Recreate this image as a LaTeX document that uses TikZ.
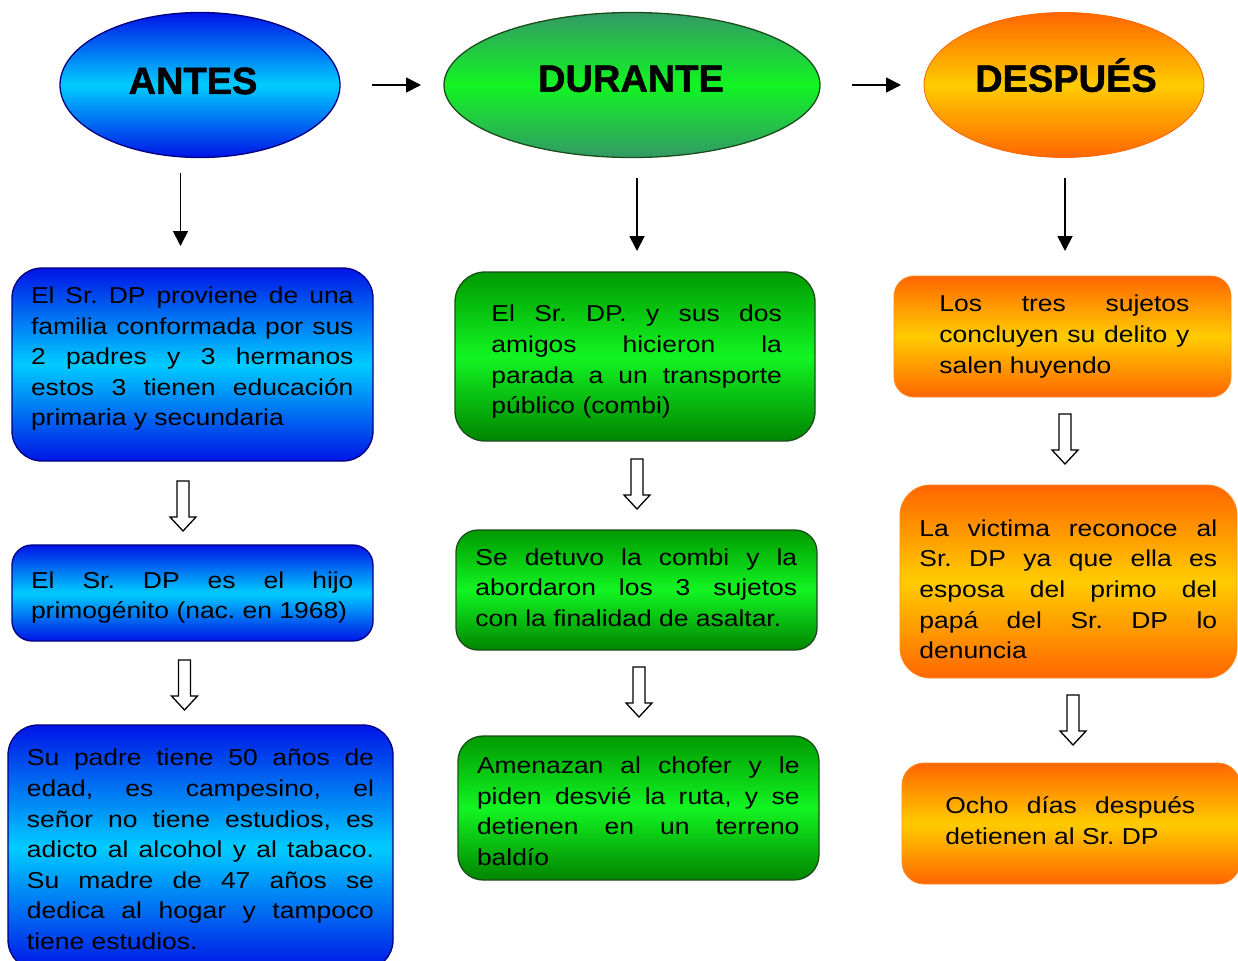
\documentclass[tikz,border=0pt]{standalone}
\usepackage{fontspec}
\setmainfont{Liberation Sans}
\newfontfamily\bodyfont{Liberation Sans}[FakeStretch=1.15]
\newfontfamily\titlefont{Liberation Sans}[BoldFeatures={FakeBold=1.2}]
\usetikzlibrary{arrows.meta,shapes.geometric}
\definecolor{bdark}{HTML}{0014E6}
\definecolor{blight}{HTML}{00CCFF}
\definecolor{bline}{HTML}{000080}
\definecolor{gedark}{HTML}{339966}
\definecolor{glight}{HTML}{12F522}
\definecolor{gtop}{HTML}{009A00}
\definecolor{gbot}{HTML}{008400}
\definecolor{gline}{HTML}{1B4D1B}
\definecolor{odark}{HTML}{FF6600}
\definecolor{olight}{HTML}{FFCC00}
\definecolor{oline}{HTML}{FF8A1F}
\frenchspacing
\tikzset{
  bluefill/.style={top color=bdark, bottom color=bdark, middle color=blight},
  greenfill/.style={top color=gtop, bottom color=gbot, middle color=glight},
  greenellfill/.style={top color=gedark, bottom color=gedark, middle color=glight},
  orangefill/.style={top color=odark, bottom color=odark, middle color=olight},
  phase/.style={ellipse, inner sep=0pt, line width=1.3pt},
  boxshape/.style={rectangle, inner sep=0pt, line width=1.3pt},
  bluebox/.style={boxshape, bluefill, draw=bline},
  greenbox/.style={boxshape, greenfill, draw=gline},
  orangebox/.style={boxshape, orangefill, draw=oline, line width=0.8pt},
  titletext/.style={inner sep=0pt, anchor=base, font=\titlefont\fontsize{38}{40}\selectfont\bfseries},
  bodytext/.style={inner sep=0pt, anchor=north west, align=justify,
    font=\bodyfont\fontsize{23}{30.6}\selectfont\frenchspacing,
    execute at begin node={\parindent=0pt\tolerance=10000\hbadness=10000\frenchspacing\rule{0pt}{20pt}}},
  arr/.style={line width=1.8pt, -{Triangle[length=15pt,width=15pt]}},
  hollowdown/.pic={
    \draw[line width=1.3pt, fill=white, line join=miter]
      (-6,0) -- (-6,36) -- (-13,36) -- (0,50) -- (13,36) -- (6,36) -- (6,0) -- cycle;
  }
}
\begin{document}
\begin{tikzpicture}[x=1pt,y=-1pt]
\useasboundingbox (0,0) rectangle (1238,960);

% phase ellipses
\node[phase, bluefill, draw=bline, minimum width=280, minimum height=145] (antes) at (200,85) {};
\node[phase, greenellfill, draw=gline, minimum width=376, minimum height=145] (durante) at (632,85) {};
\node[phase, orangefill, draw=odark, line width=0.8pt, minimum width=280, minimum height=145] (despues) at (1064,85) {};
\node[titletext] (tantes) at (193,94) {ANTES};
\node[titletext] (tdurante) at (631,91.7) {DURANTE};
\node[titletext] (tdespues) at (1066,91.7) {DESPUÉS};

% horizontal arrows
\coordinate (h1s) at (372,85); \coordinate (h1e) at (421,85);
\coordinate (h2s) at (852,85); \coordinate (h2e) at (901,85);
\draw[arr] (h1s) -- (h1e);
\draw[arr] (h2s) -- (h2e);

% vertical arrows
\coordinate (v1s) at (180.5,173); \coordinate (v1e) at (180.5,246);
\coordinate (v2s) at (637,178); \coordinate (v2e) at (637,251);
\coordinate (v3s) at (1065,178); \coordinate (v3e) at (1065,251);
\draw[arr] (v1s) -- (v1e);
\draw[arr] (v2s) -- (v2e);
\draw[arr] (v3s) -- (v3e);

% boxes column 1
\node[bluebox, rounded corners=30pt, minimum width=361, minimum height=193] (b1) at (192.5,364.5) {};
\node[bluebox, rounded corners=20pt, minimum width=361, minimum height=96] (b2) at (192.5,593) {};
\node[bluebox, rounded corners=30pt, minimum width=385, minimum height=245] (b3) at (200.5,847.5) {};
% boxes column 2
\node[greenbox, rounded corners=30pt, minimum width=360, minimum height=169] (g1) at (635,356.5) {};
\node[greenbox, rounded corners=22pt, minimum width=361, minimum height=120] (g2) at (636.5,590) {};
\node[greenbox, rounded corners=25pt, minimum width=361, minimum height=144] (g3) at (638.5,808) {};
% boxes column 3
\node[orangebox, rounded corners=20pt, minimum width=337, minimum height=121] (o1) at (1062.5,336.5) {};
\node[orangebox, rounded corners=30pt, minimum width=337, minimum height=193] (o2) at (1068.5,581.5) {};
\node[orangebox, rounded corners=22pt, minimum width=338, minimum height=121] (o3) at (1071,823.5) {};

% hollow arrows
\pic at (183,481) {hollowdown};
\pic at (184.5,660) {hollowdown};
\pic at (637,459) {hollowdown};
\pic at (639,667) {hollowdown};
\pic at (1065,414) {hollowdown};
\pic at (1073,695) {hollowdown};

% texts
\node[bodytext, text width=322.5] (tb1) at (30.8,283.3) {El Sr. DP proviene de una\linebreak familia conformada por sus\linebreak 2 padres y 3 hermanos\linebreak estos 3 tienen educación\linebreak primaria y secundaria};
\node[bodytext, text width=322.5] (tb2) at (30.8,568) {El Sr. DP es el hijo\linebreak primogénito (nac. en 1968)};
\node[bodytext, text width=347] (tb3) at (26.8,745.7) {Su padre tiene 50 años de\linebreak edad, es campesino, el\linebreak señor no tiene estudios, es\linebreak adicto al alcohol y al tabaco.\linebreak Su madre de 47 años se\linebreak dedica al hogar y tampoco\linebreak tiene estudios.};
\node[bodytext, text width=290.5] (tg1) at (491.2,301.7) {El Sr. DP. y sus dos\linebreak amigos hicieron la\linebreak parada a un transporte\linebreak público (combi)};
\node[bodytext, text width=321.8] (tg2) at (475.2,545) {Se detuvo la combi y la\linebreak abordaron los 3 sujetos\linebreak con la finalidad de asaltar.};
\node[bodytext, text width=322.5] (tg3) at (476.8,753.3) {Amenazan al chofer y le\linebreak piden desvié la ruta, y se\linebreak detienen en un terreno\linebreak baldío};
\node[bodytext, text width=250] (to1) at (939.2,291.7) {Los tres sujetos\linebreak concluyen su delito y\linebreak salen huyendo};
\node[bodytext, text width=297.8] (to2) at (919.2,516) {La victima reconoce al\linebreak Sr. DP ya que ella es\linebreak esposa del primo del\linebreak papá del Sr. DP lo\linebreak denuncia};
\node[bodytext, text width=249.8] (to3) at (945.2,793.3) {Ocho días después\linebreak detienen al Sr. DP};
\end{tikzpicture}
\end{document}
